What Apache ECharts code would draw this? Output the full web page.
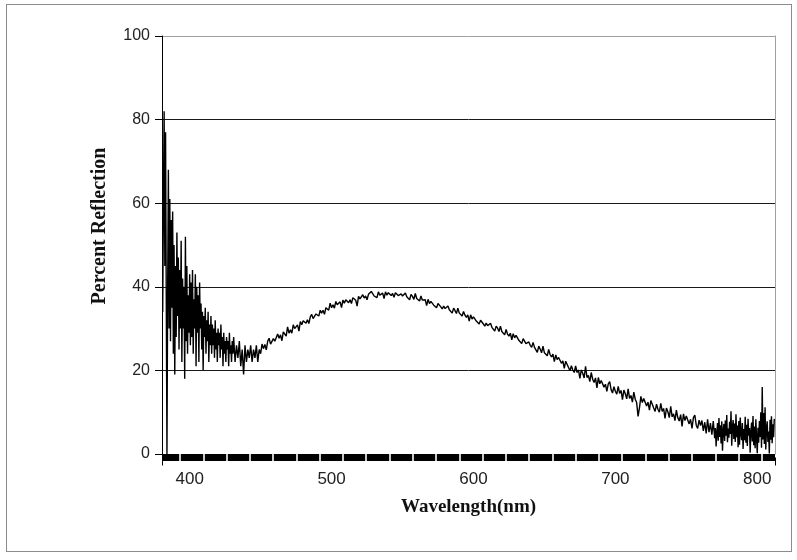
<!DOCTYPE html>
<html><head><meta charset="utf-8">
<script src="https://cdn.jsdelivr.net/npm/echarts@6/dist/echarts.min.js"></script>
<style>
html,body{margin:0;padding:0;background:#fff}
#c{width:797px;height:560px;position:absolute;left:0;top:0}
#frame{position:absolute;left:6px;top:4px;width:784px;height:546px;border:1px solid #8c8c8c;pointer-events:none}
</style>
</head><body><div id="c"></div><div id="frame"></div>
<script>
const blueStart = 381;
const blueStep = 0.5;
const blueReflectance = [
  34, 60, 82, 45, 77, 38, 0, 40, 68, 30,
  61, 27, 56, 35, 58, 24, 50, 19, 45, 28,
  53, 33, 47, 25, 44, 30, 51, 22, 42, 30,
  40, 18, 52, 27, 45, 24, 38, 29, 43, 26,
  41, 28, 44, 24, 37, 30, 43, 21, 40, 29,
  38, 22, 41, 30, 36, 25, 34, 20, 33, 28,
  35, 24, 32, 27, 34, 22, 31, 26, 33, 24,
  31, 26, 30, 23, 32, 25, 29, 22, 30, 26,
  29, 23, 31, 25, 28, 21, 29, 24, 27, 22,
  28, 25, 27, 21, 29, 24, 26, 22, 27, 24
];
// Middle of the spectrum: one value per nm from 431 to 770
const mainStart = 431;
const mainStep = 1;
const mainReflectance = [
  28, 22, 26, 23, 27, 21, 25, 19, 26, 22,
  25, 23, 26, 22, 25, 23, 26, 22, 25, 24,
  26.3, 25.2, 26.2, 24.9, 27.0, 27.7, 26.3, 26.0, 27.6, 27.0,
  26.9, 28.7, 27.7, 28.5, 27.1, 29.2, 28.8, 28.2, 30.4, 28.9,
  29.7, 28.9, 30.9, 30.0, 29.7, 30.9, 29.4, 31.7, 30.9, 31.9,
  32.1, 31.3, 32.1, 31.2, 32.8, 33.4, 32.4, 32.2, 33.5, 33.1,
  33.0, 34.4, 33.7, 34.4, 33.4, 35.0, 34.8, 34.4, 36.1, 35.0,
  35.7, 34.9, 36.5, 35.7, 35.4, 36.4, 35.0, 36.8, 36.1, 36.9,
  37.0, 36.2, 36.9, 36.0, 37.4, 37.8, 36.8, 35.4, 37.7, 37.1,
  37.0, 38.1, 37.3, 37.8, 36.9, 38.2, 37.9, 38.9, 38.8, 37.8,
  38.2, 37.4, 38.8, 38.0, 37.7, 38.5, 37.2, 38.8, 38.0, 38.6,
  38.7, 37.9, 38.4, 37.5, 38.6, 38.8, 37.9, 37.5, 38.3, 37.8,
  37.5, 38.5, 37.6, 38.0, 36.9, 38.2, 37.7, 37.0, 38.4, 37.2,
  37.5, 36.6, 37.8, 36.8, 36.4, 36.9, 35.5, 37.0, 36.0, 36.5,
  36.5, 35.6, 36.0, 35.0, 36.0, 36.2, 35.2, 34.7, 35.4, 34.8,
  34.5, 35.4, 34.5, 34.8, 33.7, 34.9, 34.3, 33.6, 34.9, 33.7,
  33.9, 33.0, 34.1, 33.2, 32.7, 33.3, 31.8, 33.3, 32.3, 32.8,
  32.7, 31.8, 32.1, 31.1, 32.0, 32.2, 31.1, 30.6, 31.3, 30.7,
  30.4, 31.3, 30.3, 30.6, 29.4, 30.6, 30.1, 29.3, 30.6, 29.3,
  29.5, 28.5, 29.8, 28.7, 28.2, 28.9, 27.3, 28.8, 27.8, 28.4,
  28.2, 27.2, 27.6, 26.4, 27.6, 27.7, 26.4, 26.0, 26.8, 26.0,
  25.5, 26.7, 25.5, 25.8, 24.3, 25.8, 25.1, 24.2, 25.8, 24.2,
  24.6, 23.5, 25.0, 23.8, 23.2, 23.9, 22.1, 23.7, 22.6, 23.1,
  23.2, 21.7, 22.3, 20.5, 22.2, 22.5, 20.7, 19.9, 21.1, 20.1,
  19.5, 21.1, 19.5, 20.1, 18.1, 20.1, 19.3, 18.2, 21.0, 18.3,
  18.8, 17.3, 19.5, 17.9, 17.1, 18.2, 15.8, 18.3, 16.8, 17.6,
  17.6, 16.0, 16.7, 15.0, 16.8, 17.3, 15.4, 14.6, 16.1, 15.0,
  14.3, 16.2, 14.5, 15.2, 13.0, 15.3, 14.4, 13.2, 15.6, 13.3,
  14.0, 12.4, 14.8, 13.1, 12.3, 9.0, 11.1, 13.8, 12.3, 13.3,
  13.4, 11.5, 12.4, 10.5, 12.8, 13.2, 11.0, 10.2, 11.9, 10.7,
  10.0, 12.1, 10.2, 10.9, 8.5, 11.0, 10.1, 8.7, 11.4, 8.9,
  9.6, 8.0, 10.5, 8.7, 7.9, 9.4, 6.6, 9.6, 8.0, 9.1,
  9.2, 7.2, 8.3, 6.1, 8.7, 9.3, 6.9, 6.1, 8.1, 6.8,
  8.0, 5.5, 7.6, 4.9, 8.3, 5.2, 7.4, 4.6, 7.9, 3.8
];
const redStart = 770.5;
const redStep = 0.5;
const redReflectance = [
  6.2, 1.8, 5.0, 7.4, 3.2, 8.6, 4.1, 6.9, 2.5, 7.8,
  0.8, 5.6, 7.2, 3.1, 8.0, 4.4, 9.3, 2.8, 6.1, 3.9,
  7.7, 4.8, 10.2, 2.0, 6.5, 8.1, 3.6, 7.3, 2.9, 9.5,
  4.0, 6.8, 1.6, 7.9, 2.2, 8.7, 5.1, 3.3, 7.4, 1.2,
  6.0, 3.3, 8.9, 2.7, 7.0, 1.9, 8.4, 4.4, 6.2, 0.3,
  5.3, 7.5, 3.0, 9.1, 2.1, 6.6, 1.4, 8.3, 3.8, 0.2,
  6.3, 2.7, 7.9, 4.1, 10.0, 1.5, 16.0, 3.5, 9.8, 2.4,
  11.2, 1.1, 6.0, 7.8, 2.9, 5.4, 0.1, 8.2, 3.4, 9.0,
  2.6, 7.1, 4.0, 8.4
];
// Axis labels and ticks
const xLabelValues = [400, 500, 600, 700, 800];
const xEdgeTicks = [380.5, 812.5];
const xTickGapValues = [393.2, 409.6, 426.0, 442.4, 458.8, 475.2, 491.6, 508.0, 524.4, 540.8,
  557.2, 573.6, 590.0, 606.4, 622.8, 639.2, 655.6, 672.0, 688.4, 704.8, 721.2, 737.6,
  754.0, 770.4, 786.8, 803.2];
const yMin = 0, yMax = 100, yInterval = 20;

const seriesData = blueReflectance.map((r, i) => [blueStart + i * blueStep, r])
  .concat(mainReflectance.map((r, i) => [mainStart + i * mainStep, r]))
  .concat(redReflectance.map((r, i) => [redStart + i * redStep, r]));

const chart = echarts.init(document.getElementById('c'), null, {renderer: 'canvas'});
chart.setOption({
  animation: false,
  backgroundColor: '#fff',
  grid: {left: 162, right: 22, top: 36, bottom: 106, containLabel: false, outerBoundsMode: 'none'},
  xAxis: [
    {
      type: 'value', min: 380.5, max: 812.5, position: 'bottom', offset: 3.5,
      axisLine: {show: true, onZero: false, lineStyle: {color: '#000', width: 7, cap: 'butt'}},
      axisTick: {show: true, customValues: xEdgeTicks, length: 8, lineStyle: {color: '#000', width: 1}},
      axisLabel: {customValues: xLabelValues, margin: 13, fontSize: 17, fontFamily: 'Liberation Sans', color: '#222'},
      splitLine: {show: false},
      name: 'Wavelength(nm)', nameLocation: 'middle', nameGap: 40,
      nameTextStyle: {fontFamily: 'Liberation Serif', fontWeight: 'bold', fontSize: 19, color: '#111'}
    },
    {
      type: 'value', min: 380.5, max: 812.5, position: 'bottom',
      axisLine: {show: false, onZero: false},
      axisTick: {show: true, customValues: xTickGapValues, length: 7, lineStyle: {color: '#fff', width: 1.6, cap: 'butt'}},
      axisLabel: {show: false},
      splitLine: {show: false}
    }
  ],
  yAxis: [
    {
      type: 'value', min: yMin, max: yMax, interval: yInterval, position: 'left',
      axisLine: {show: true, lineStyle: {color: '#000', width: 1}},
      axisTick: {show: true, length: 7, lineStyle: {color: '#000', width: 1}},
      axisLabel: {margin: 12, fontSize: 16, fontFamily: 'Liberation Sans', color: '#222'},
      splitLine: {show: true, lineStyle: {color: ['#1a1a1a', '#1a1a1a', '#1a1a1a', '#1a1a1a', '#1a1a1a', '#a0a0a0'], width: 1}},
      name: 'Percent Reflection', nameLocation: 'middle', nameGap: 52,
      nameTextStyle: {fontFamily: 'Liberation Serif', fontWeight: 'bold', fontSize: 20, color: '#111', padding: [0, 0, 0, 38]}
    },
    {
      type: 'value', min: yMin, max: yMax, position: 'right',
      axisLine: {show: true, lineStyle: {color: '#a0a0a0', width: 1}},
      axisTick: {show: false}, axisLabel: {show: false}, splitLine: {show: false}
    }
  ],
  series: [{
    type: 'line', xAxisIndex: 0, yAxisIndex: 0, data: seriesData,
    showSymbol: false, symbol: 'none',
    lineStyle: {color: '#000', width: 1.4}
  }]
});
</script>
</body></html>
